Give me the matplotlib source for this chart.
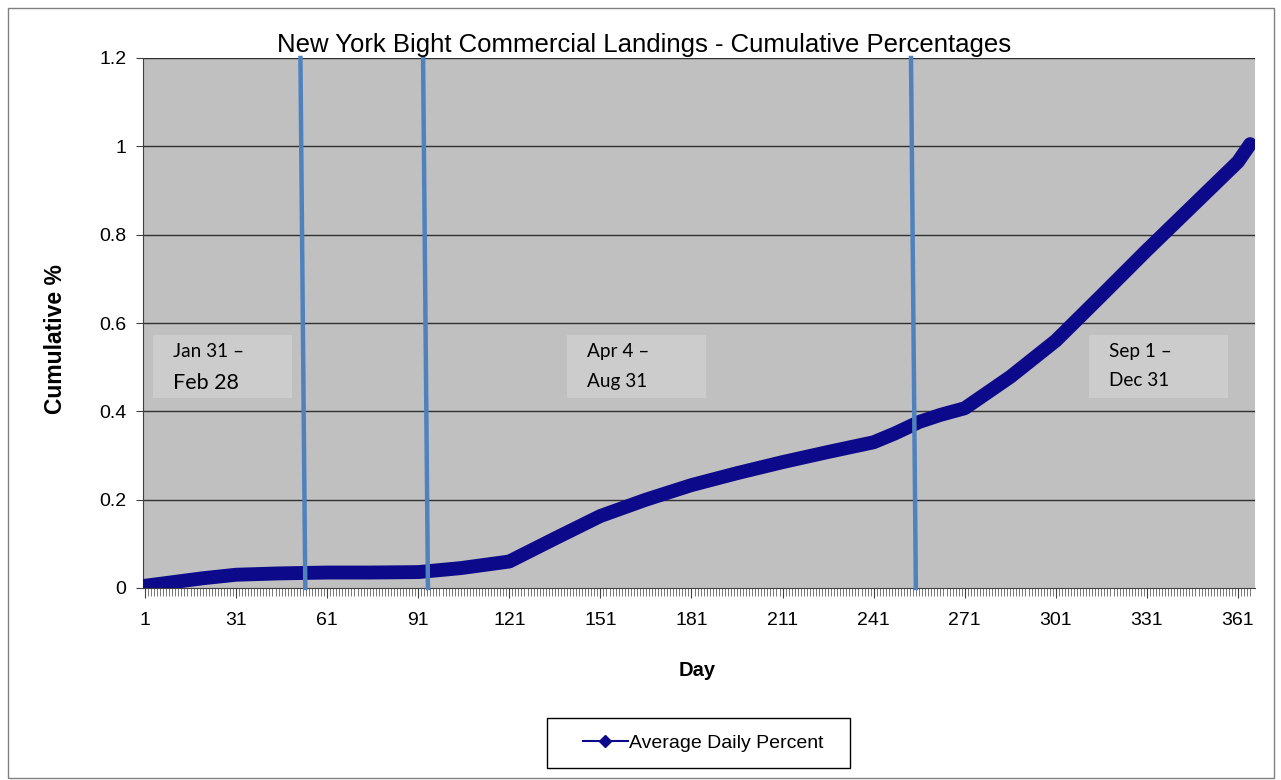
import matplotlib
matplotlib.use("Agg")
import matplotlib.pyplot as plt
from matplotlib.patches import Rectangle
from matplotlib.lines import Line2D

days = [1, 10, 20, 31, 45, 61, 75, 91, 105, 121, 136, 151, 166, 181, 196, 211, 226, 241, 248, 256, 263, 271, 286, 301, 316, 331, 346, 361, 365]
values = [0.005, 0.013, 0.022, 0.030, 0.033, 0.035, 0.035, 0.036, 0.045, 0.060, 0.112, 0.163, 0.200, 0.233, 0.260, 0.285, 0.308, 0.330, 0.350, 0.376, 0.392, 0.407, 0.478, 0.560, 0.662, 0.765, 0.865, 0.965, 1.005]
tick_days = [1, 31, 61, 91, 121, 151, 181, 211, 241, 271, 301, 331, 361]
y_ticks = [0, 0.2, 0.4, 0.6, 0.8, 1, 1.2]
y_tick_labels = ["0", "0.2", "0.4", "0.6", "0.8", "1", "1.2"]
# season boundary lines (drawn slightly slanted: top day, bottom day)
boundaries = [(52.2, 53.8), (92.6, 94.2), (253.3, 254.9)]
box_texts = [("Jan 31 \u2013", "Feb 28"), ("Apr 4 \u2013", "Aug 31"), ("Sep 1 \u2013", "Dec 31")]

plt.rcParams['font.family'] = ['Liberation Sans', 'DejaVu Sans']

fig = plt.figure(figsize=(12.81, 7.80), dpi=100)
fig.patch.set_facecolor('white')
ax = fig.add_axes([143/1281, 1-588/780, (1255-143)/1281, (588-58)/780])
ax.set_facecolor('#c0c0c0')

ax.set_xlim(0.35, 366.6)
ax.set_ylim(0, 1.2)

for yv in y_ticks[1:]:
    ax.axhline(yv, color='#303030', lw=1.0, zorder=1)

ax.plot(days, values, color='#0c0a8a', lw=10, solid_capstyle='round', solid_joinstyle='round', zorder=3)

for (t, b) in boundaries:
    ax.plot([b, t], [0, 1.2], color='#4f81bd', lw=3.2, zorder=4, clip_on=False)

# text boxes (figure pixel coords)
box_px = [(153, 292), (567, 706), (1089, 1228)]
line2_y = [383, 381, 380]
for (x0, x1), (l1, l2), i in zip(box_px, box_texts, range(3)):
    r = Rectangle((x0/1281, 1-398/780), (x1-x0)/1281, 63/780, transform=fig.transFigure,
                  facecolor='#cccccc', edgecolor='none', zorder=5)
    fig.patches.append(r)
    fs2 = 15.5 if i == 0 else 13.7
    fig.text((x0+20)/1281, 1-352/780, l1, fontsize=13.7, family=['Lato', 'DejaVu Sans'], va='center', ha='left', zorder=6)
    fig.text((x0+20)/1281, 1-line2_y[i]/780, l2, fontsize=fs2, family=['Lato', 'DejaVu Sans'], va='center', ha='left', zorder=6)

ax.set_xticks(tick_days)
ax.set_xticklabels([str(d) for d in tick_days], fontsize=14)
ax.set_xticks(range(1, 366), minor=True)
ax.tick_params(axis='x', which='major', length=7, direction='out', pad=10, color='#404040')
ax.tick_params(axis='x', which='minor', length=6, direction='out', color='#606060', width=0.6)
ax.set_yticks(y_ticks)
ax.set_yticklabels(y_tick_labels, fontsize=14)
ax.tick_params(axis='y', length=5, direction='out', pad=7, color='#404040')

for s in ['top', 'right']:
    ax.spines[s].set_visible(False)
ax.spines['left'].set_color('#404040')
ax.spines['bottom'].set_color('#404040')

fig.text(644/1281, 1-45/780, "New York Bight Commercial Landings - Cumulative Percentages", fontsize=18.5, ha='center', va='center')
fig.text(56/1281, 1-339/780, "Cumulative %", fontsize=16.5, fontweight='bold', rotation=90, ha='center', va='center')
fig.text(697/1281, 1-670/780, "Day", fontsize=14.5, fontweight='bold', ha='center', va='center')

# legend frame drawn separately to match the reference padding
fig.patches.append(Rectangle((547/1281, 1-768/780), 303/1281, 50/780, transform=fig.transFigure,
                             facecolor='white', edgecolor='black', lw=1.0, zorder=2))
handle = Line2D([], [], color='#0c0a8a', lw=1.5, marker='D', markersize=6)
leg = fig.legend([handle], ["Average Daily Percent"], loc='center', bbox_to_anchor=(703/1281, 1-743/780),
                 fontsize=14, frameon=False, borderpad=0.2,
                 handlelength=2.3, handletextpad=0.05, borderaxespad=0)
leg.set_zorder(3)

# outer chart border
fig.patches.append(Rectangle((8/1281, 2/780), 1266/1281, 770/780, transform=fig.transFigure,
                             facecolor='none', edgecolor='#808080', lw=1.0))

fig.savefig("out.png", dpi=100)
